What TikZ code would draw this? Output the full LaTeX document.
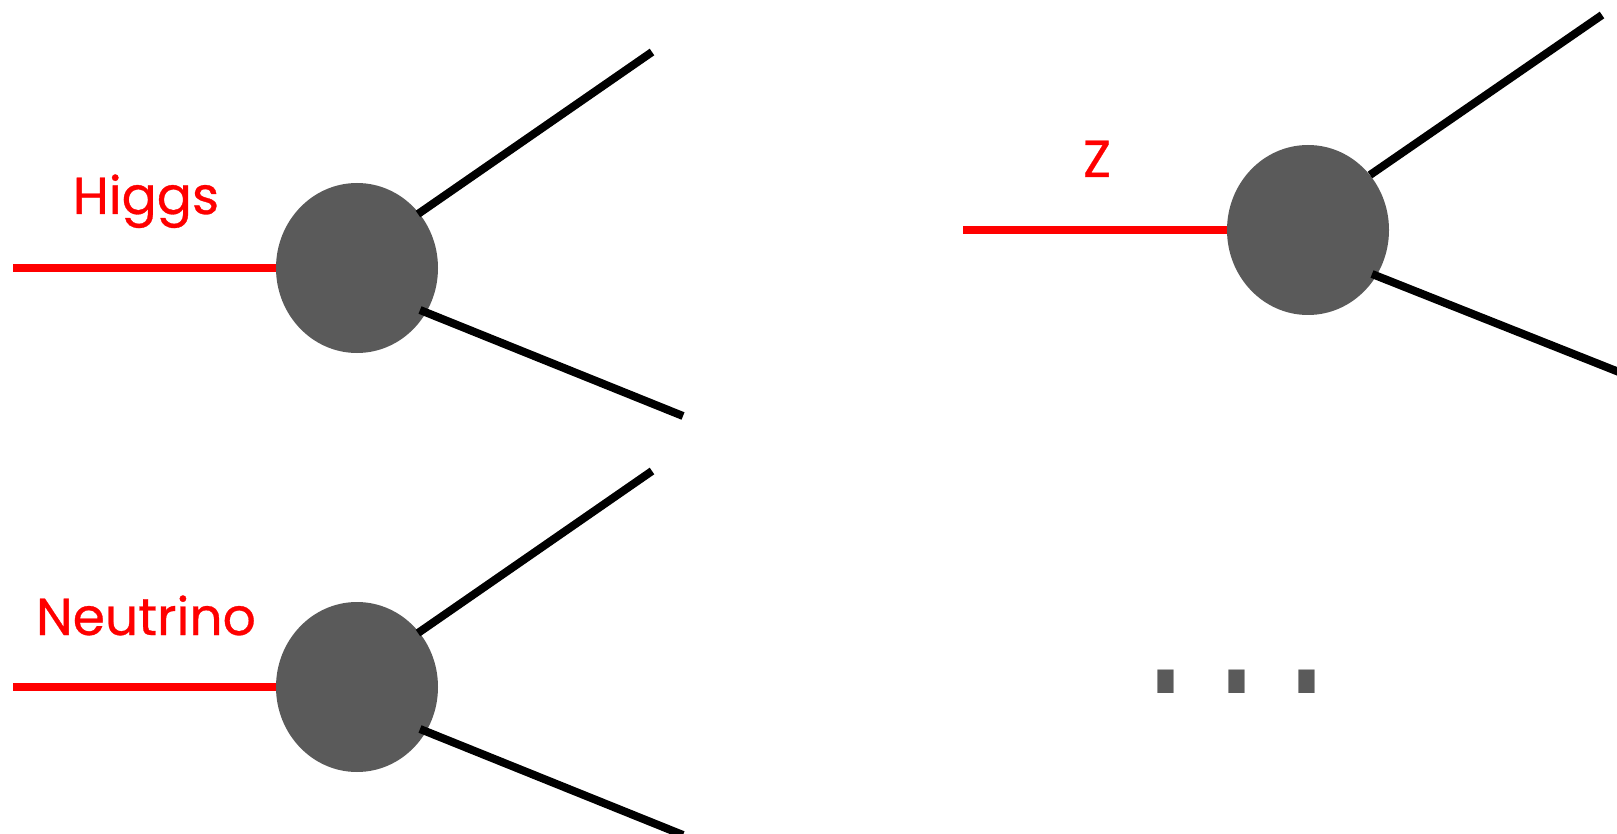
\documentclass[tikz,border=0pt]{standalone}
\usepackage{fontspec}
\setmainfont{Poppins}
\newfontfamily\lblfont{Poppins}[FakeBold=0.6]
\newfontfamily\dotfont{DejaVu Sans}
\usetikzlibrary{shapes.geometric,calc}
\definecolor{blobgray}{HTML}{5A5A5A}
\tikzset{
  blob/.style={ellipse, fill=blobgray, draw=none, minimum width=81pt, minimum height=85pt, inner sep=0pt},
  inline/.style={red, line width=4pt},
  outline/.style={black, line width=4pt},
  lbl/.style={text=red, font=\lblfont\fontsize{26}{30}\selectfont, anchor=base, inner sep=0pt}
}
\begin{document}
\begin{tikzpicture}[x=0.5pt, y=-0.5pt]
\clip (0,0) rectangle (1617,834);
\fill[white] (0,0) rectangle (1617,834);
% Higgs
\node[blob] (h) at (357,268) {};
\coordinate (hin) at (13,268);
\coordinate (hu) at (652,52);
\coordinate (hl) at (683,416);
\draw[inline] (hin) -- (h.west);
\draw[outline] ($(h.center)+(61,-54)$) -- (hu);
\draw[outline] ($(h.center)+(63,42)$) -- (hl);
\node[lbl] (hlab) at (146,214) {Higgs};
% Neutrino
\node[blob] (n) at (357,687) {};
\coordinate (nin) at (13,687);
\coordinate (nu) at (652,471);
\coordinate (nl) at (683,835);
\draw[inline] (nin) -- (n.west);
\draw[outline] ($(n.center)+(61,-54)$) -- (nu);
\draw[outline] ($(n.center)+(63,42)$) -- (nl);
\node[lbl] (nlab) at (146,635) {Neutrino};
% Z
\node[blob] (z) at (1308,230) {};
\coordinate (zin) at (963,230);
\coordinate (zu) at (1602,15);
\coordinate (zl) at (1634,378);
\draw[inline] (zin) -- (z.west);
\draw[outline] ($(z.center)+(62,-55)$) -- (zu);
\draw[outline] ($(z.center)+(64,44)$) -- (zl);
\node[lbl] (zlab) at (1097,177) {Z};
% dots
\node[anchor=base, inner sep=0pt, text=blobgray, font=\dotfont\bfseries\fontsize{46}{50}\selectfont] (dots) at (1236.5,693) {\scalebox{1}[1.35]{.\hspace{18pt}.\hspace{18pt}.}};
\end{tikzpicture}
\end{document}
